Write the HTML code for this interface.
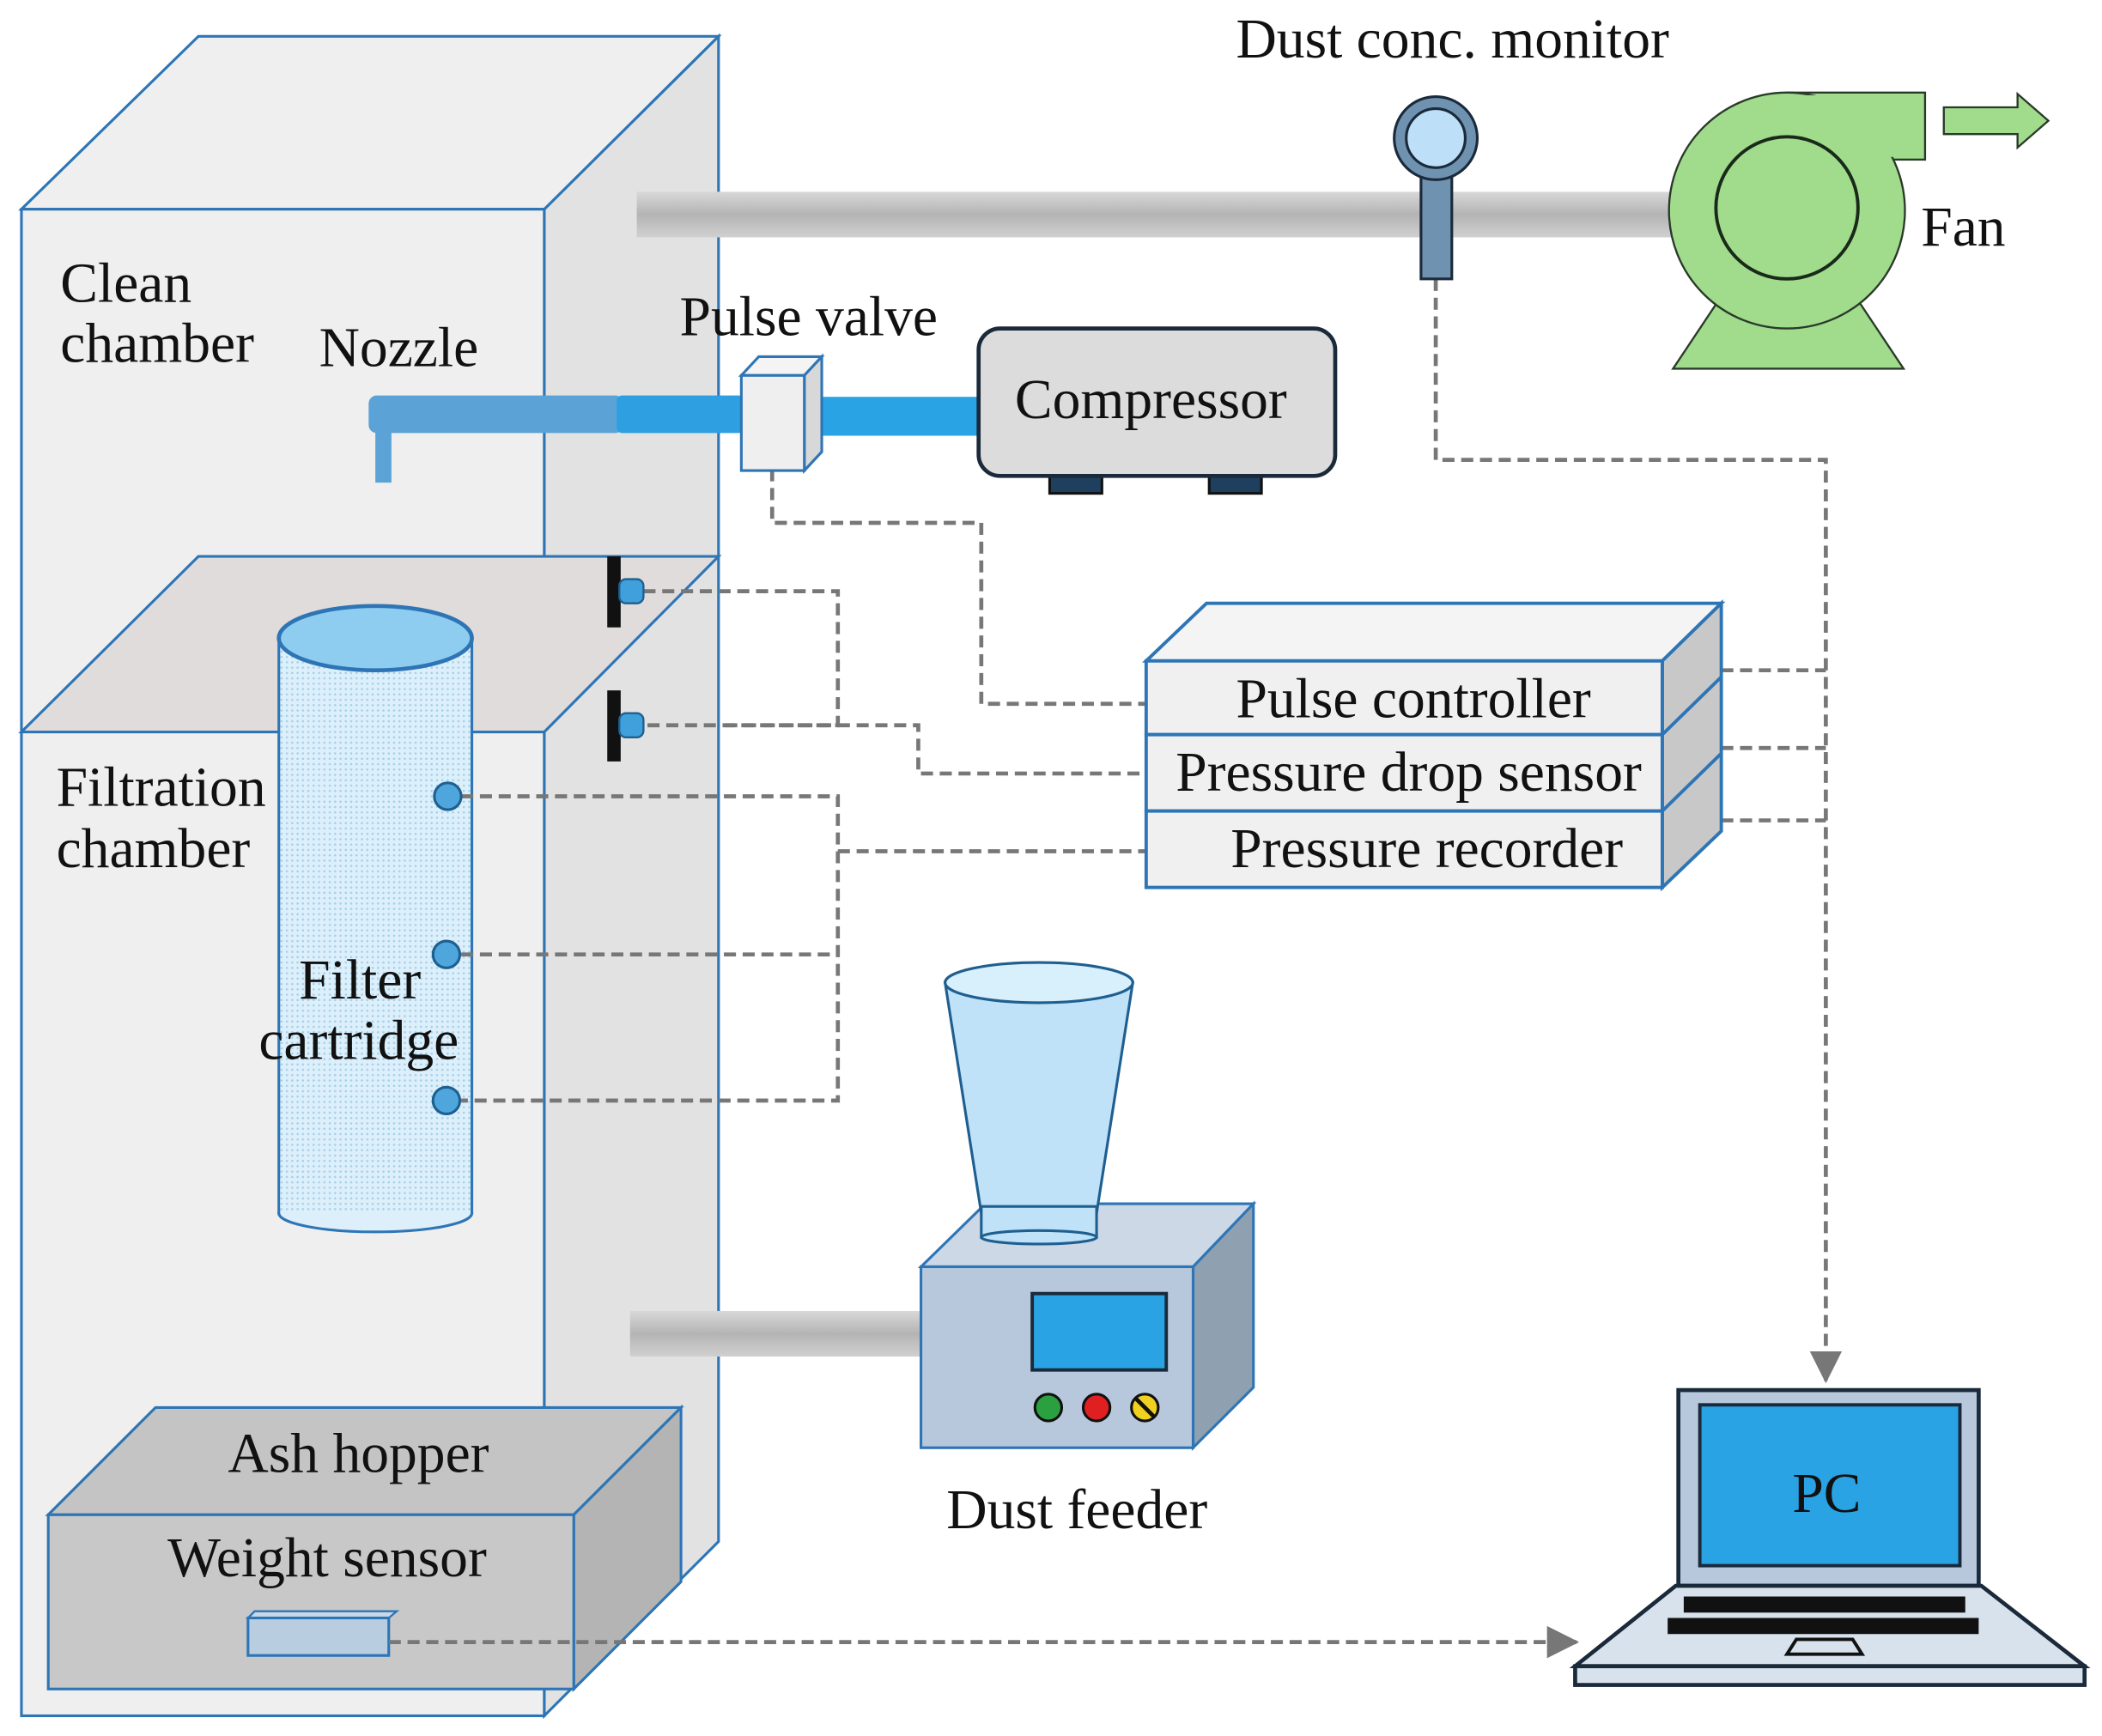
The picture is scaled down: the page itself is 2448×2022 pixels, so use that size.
<!DOCTYPE html>
<html><head><meta charset="utf-8"><style>
html,body{margin:0;padding:0;background:#fff;}
svg{display:block;}
text{font-family:"Liberation Serif",serif;font-size:42px;fill:#111;}
</style></head><body>
<svg width="2448" height="2022" viewBox="0 0 1568 1295" xmlns="http://www.w3.org/2000/svg">
<defs>
<linearGradient id="gp" x1="0" y1="0" x2="0" y2="1"><stop offset="0" stop-color="#d8d8d8"/><stop offset="0.5" stop-color="#b4b4b4"/><stop offset="1" stop-color="#d0d0d0"/></linearGradient>
<pattern id="dots" width="4" height="4" patternUnits="userSpaceOnUse"><rect width="4" height="4" fill="#dcefFa"/><circle cx="2" cy="2" r="0.8" fill="#9fcfea"/></pattern>
<marker id="ar" markerWidth="26" markerHeight="26" refX="22" refY="13" orient="auto" markerUnits="userSpaceOnUse"><path d="M0,1 L24,13 L0,25z" fill="#777"/></marker>
</defs>
<polygon points="406,156 536,27 536,1150 406,1280" fill="#e2e2e2" stroke="#2e75b6" stroke-width="2"/>
<polygon points="16,156 148,27 536,27 406,156" fill="#efefef" stroke="#2e75b6" stroke-width="2"/>
<rect x="16" y="156" width="390" height="1124" fill="#ececec" fill-opacity="0.85" stroke="#2e75b6" stroke-width="2"/>
<rect x="475" y="143" width="775" height="34" fill="url(#gp)"/>
<rect x="470" y="978" width="217" height="34" fill="url(#gp)"/>
<polygon points="16,546 148,415 536,415 406,546" fill="#e0dcdc" stroke="#2e75b6" stroke-width="2"/>
<rect x="208" y="475" width="144" height="430" fill="url(#dots)" stroke="#2e75b6" stroke-width="2"/>
<ellipse cx="280" cy="905" rx="72" ry="14" fill="#dcefFa" stroke="#2e75b6" stroke-width="2"/>
<rect x="209" y="880" width="142" height="25" fill="url(#dots)"/>
<ellipse cx="280" cy="476" rx="72" ry="24" fill="#8fcdf0" stroke="#2e75b6" stroke-width="3"/>
<polygon points="36,1130 116,1050 508,1050 428,1130" fill="#c4c4c4" stroke="#2e75b6" stroke-width="2"/>
<polygon points="428,1130 508,1050 508,1180 428,1260" fill="#b4b4b4" stroke="#2e75b6" stroke-width="2"/>
<rect x="36" y="1130" width="392" height="130" fill="#c8c8c8" stroke="#2e75b6" stroke-width="2"/>
<polygon points="185,1207 190,1202 296,1202 290,1207" fill="#c8d8e8" stroke="#2e75b6" stroke-width="1.5"/>
<rect x="185" y="1207" width="105" height="28" fill="#b8cde0" stroke="#2e75b6" stroke-width="2"/>
<g fill="none" stroke="#777" stroke-width="3" stroke-dasharray="9 5">
<polyline points="1071,208 1071,343 1362,343 1362,1030" marker-end="url(#ar)"/>
<line x1="1284" y1="500" x2="1362" y2="500"/>
<line x1="1284" y1="558" x2="1362" y2="558"/>
<line x1="1284" y1="612" x2="1362" y2="612"/>
<polyline points="576,350 576,390 732,390 732,525 855,525"/>
<polyline points="480,441 625,441 625,541 480,541"/>
<polyline points="541,541 685,541 685,577 855,577"/>
<polyline points="344,594 625,594 625,821 344,821"/>
<line x1="344" y1="712" x2="625" y2="712"/>
<line x1="625" y1="635" x2="855" y2="635"/>
<line x1="290" y1="1225" x2="1176" y2="1225" marker-end="url(#ar)"/>
</g>
<g fill="#4fa6dc" stroke="#1f5f90" stroke-width="2">
<circle cx="334" cy="594" r="10"/><circle cx="333" cy="712" r="10"/><circle cx="333" cy="821" r="10"/>
</g>
<rect x="453" y="415" width="10" height="53" fill="#111"/>
<rect x="453" y="515" width="10" height="53" fill="#111"/>
<rect x="462" y="432" width="18" height="18" rx="5" fill="#3fa0dc" stroke="#1f5f90" stroke-width="1.5"/>
<rect x="462" y="532" width="18" height="18" rx="5" fill="#3fa0dc" stroke="#1f5f90" stroke-width="1.5"/>
<rect x="280" y="320" width="12" height="40" fill="#5ba3d6"/>
<rect x="275" y="295" width="190" height="28" rx="6" fill="#5ba3d6"/>
<rect x="460" y="295" width="95" height="28" rx="4" fill="#2e9fe0"/>
<rect x="612" y="296" width="118" height="29" fill="#29a3e3"/>
<polygon points="553,280 566,266 613,266 600,280" fill="#f4f4f4" stroke="#2e75b6" stroke-width="2"/>
<polygon points="600,280 613,266 613,337 600,351" fill="#d8d8d8" stroke="#2e75b6" stroke-width="2"/>
<rect x="553" y="280" width="47" height="71" fill="#efefef" stroke="#2e75b6" stroke-width="2"/>
<rect x="783" y="352" width="39" height="16" fill="#1f3f5f" stroke="#111" stroke-width="2"/>
<rect x="902" y="352" width="39" height="16" fill="#1f3f5f" stroke="#111" stroke-width="2"/>
<rect x="730" y="245" width="266" height="110" rx="16" fill="#dcdcdc" stroke="#1a2a3a" stroke-width="3"/>
<polygon points="855,493 900,450 1284,450 1240,493" fill="#f4f4f4" stroke="#2e75b6" stroke-width="2.5"/>
<polygon points="1240,493 1284,450 1284,620 1240,662" fill="#c8c8c8" stroke="#2e75b6" stroke-width="2.5"/>
<line x1="1240" y1="548" x2="1284" y2="505" stroke="#2e75b6" stroke-width="2.5"/>
<line x1="1240" y1="605" x2="1284" y2="562" stroke="#2e75b6" stroke-width="2.5"/>
<rect x="855" y="493" width="385" height="55" fill="#f0f0f0" stroke="#2e75b6" stroke-width="2.5"/>
<rect x="855" y="548" width="385" height="57" fill="#f0f0f0" stroke="#2e75b6" stroke-width="2.5"/>
<rect x="855" y="605" width="385" height="57" fill="#f0f0f0" stroke="#2e75b6" stroke-width="2.5"/>
<rect x="1060" y="128" width="23" height="80" fill="#6f92b0" stroke="#1a2a3a" stroke-width="2"/>
<circle cx="1071" cy="103" r="31" fill="#6f92b0" stroke="#1a2a3a" stroke-width="2"/>
<circle cx="1071" cy="103" r="22" fill="#bde0f8" stroke="#1a2a3a" stroke-width="2"/>
<polygon points="1248,275 1420,275 1378,212 1290,212" fill="#a0dc8c" stroke="#2a3a2a" stroke-width="1.5"/>
<rect x="1333" y="69" width="103" height="50" fill="#a0dc8c" stroke="#2a3a2a" stroke-width="1.5"/>
<circle cx="1333" cy="157" r="88" fill="#a0dc8c" stroke="#2a3a2a" stroke-width="1.5"/>
<rect x="1334" y="71" width="100" height="46" fill="#a0dc8c"/>
<circle cx="1333" cy="155" r="53" fill="#a0dc8c" stroke="#1a2a1a" stroke-width="2.5"/>
<polygon points="1450,80 1505,80 1505,70 1528,90 1505,110 1505,100 1450,100" fill="#a0dc8c" stroke="#2a3a2a" stroke-width="1.5"/>
<polygon points="687,945 735,898 935,898 890,945" fill="#ccd8e6" stroke="#2e75b6" stroke-width="2"/>
<polygon points="890,945 935,898 935,1035 890,1080" fill="#8fa0b0" stroke="#2e75b6" stroke-width="2"/>
<rect x="687" y="945" width="203" height="135" fill="#b8c8dc" stroke="#2e75b6" stroke-width="2"/>
<rect x="770" y="965" width="100" height="57" fill="#29a3e3" stroke="#1a2a3a" stroke-width="2.5"/>
<circle cx="782" cy="1050" r="10" fill="#2aa040" stroke="#111" stroke-width="2"/>
<circle cx="818" cy="1050" r="10" fill="#e02020" stroke="#111" stroke-width="2"/>
<circle cx="854" cy="1050" r="10" fill="#f0d020" stroke="#111" stroke-width="2"/>
<line x1="847" y1="1043" x2="861" y2="1057" stroke="#111" stroke-width="3"/>
<polygon points="705,733 845,733 818,905 732,905" fill="#bfe2f8" stroke="#1f5f90" stroke-width="2"/>
<rect x="732" y="900" width="86" height="23" fill="#bfe2f8" stroke="#1f5f90" stroke-width="2"/>
<ellipse cx="775" cy="923" rx="43" ry="5" fill="#bfe2f8" stroke="#1f5f90" stroke-width="2"/>
<ellipse cx="775" cy="733" rx="70" ry="15" fill="#d8effc" stroke="#1f5f90" stroke-width="2"/>
<rect x="1252" y="1037" width="224" height="146" fill="#b8c8dc" stroke="#1a2a3a" stroke-width="3"/>
<rect x="1268" y="1048" width="194" height="120" fill="#29a3e3" stroke="#1a2a3a" stroke-width="2.5"/>
<polygon points="1175,1243 1250,1183 1478,1183 1555,1243" fill="#d8e2ec" stroke="#1a2a3a" stroke-width="3"/>
<rect x="1175" y="1243" width="380" height="14" fill="#d8e2ec" stroke="#1a2a3a" stroke-width="3"/>
<rect x="1256" y="1191" width="210" height="12" fill="#111"/>
<rect x="1244" y="1207" width="232" height="12" fill="#111"/>
<polygon points="1333,1234 1340,1223 1382,1223 1389,1234" fill="#d8e2ec" stroke="#111" stroke-width="2.5"/>
<text x="922" y="43">Dust conc. monitor</text>
<text x="1433" y="183">Fan</text>
<text x="45" y="225">Clean</text>
<text x="45" y="270">chamber</text>
<text x="238" y="273">Nozzle</text>
<text x="507" y="250">Pulse valve</text>
<text x="757" y="312">Compressor</text>
<text x="922" y="535">Pulse controller</text>
<text x="877" y="590">Pressure drop sensor</text>
<text x="918" y="647">Pressure recorder</text>
<text x="42" y="601">Filtration</text>
<text x="42" y="647">chamber</text>
<text x="223" y="745">Filter</text>
<text x="193" y="790">cartridge</text>
<text x="170" y="1098">Ash hopper</text>
<text x="125" y="1176">Weight sensor</text>
<text x="706" y="1140">Dust feeder</text>
<text x="1337" y="1128">PC</text>
</svg>
</body></html>
